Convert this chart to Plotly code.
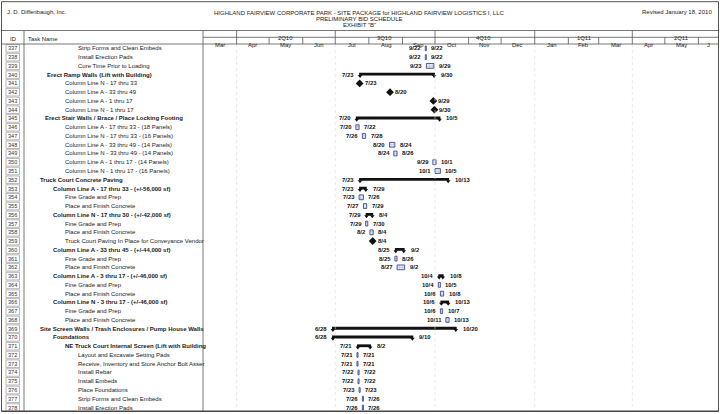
import plotly.graph_objects as go
from datetime import datetime, timedelta

W, H = 720, 414

# ---------------- data ----------------
task_ids = list(range(337, 379))
task_names = [
    "Strip Forms and Clean Embeds",
    "Install Erection Pads",
    "Cure Time Prior to Loading",
    "Erect Ramp Walls (Lift with Building)",
    "Column Line N - 17 thru 33",
    "Column Line A - 33 thru 49",
    "Column Line A - 1 thru 17",
    "Column Line N - 1 thru 17",
    "Erect Stair Walls / Brace / Place Locking Footing",
    "Column Line A - 17 thru 33 - (18 Panels)",
    "Column Line N - 17 thru 33 - (16 Panels)",
    "Column Line A - 33 thru 49 - (14 Panels)",
    "Column Line N - 33 thru 49 - (14 Panels)",
    "Column Line A - 1 thru 17 - (14 Panels)",
    "Column Line N - 1 thru 17 - (16 Panels)",
    "Truck Court Concrete Paving",
    "Column Line A - 17 thru 33 - (+/-56,000 sf)",
    "Fine Grade and Prep",
    "Place and Finish Concrete",
    "Column Line N - 17 thru 30 - (+/-42,000 sf)",
    "Fine Grade and Prep",
    "Place and Finish Concrete",
    "Truck Court Paving In Place for Conveyance Vendor",
    "Column Line A - 33 thru 45 - (+/-44,000 sf)",
    "Fine Grade and Prep",
    "Place and Finish Concrete",
    "Column Line A - 3 thru 17 - (+/-46,000 sf)",
    "Fine Grade and Prep",
    "Place and Finish Concrete",
    "Column Line N - 3 thru 17 - (+/-46,000 sf)",
    "Fine Grade and Prep",
    "Place and Finish Concrete",
    "Site Screen Walls / Trash Enclosures / Pump House Walls",
    "Foundations",
    "NE Truck Court Internal Screen (Lift with Building",
    "Layout and Excavate Setting Pads",
    "Receive, Inventory and Store Anchor Bolt Asser",
    "Install Rebar",
    "Install Embeds",
    "Place Foundations",
    "Strip Forms and Clean Embeds",
    "Install Erection Pads",
]
task_kinds = (["task"] * 3 + ["summary"] + ["milestone"] * 4 + ["summary"] + ["task"] * 6
              + ["summary"] * 2 + ["task"] * 2 + ["summary"] + ["task"] * 2 + ["milestone"]
              + ["summary"] + ["task"] * 2 + ["summary"] + ["task"] * 2 + ["summary"] + ["task"] * 2
              + ["summary"] * 3 + ["task"] * 7)
task_indent = [77, 77, 77, 46, 64, 64, 64, 64, 44, 64, 64, 64, 64, 64, 64,
               39, 52, 64, 64, 52, 64, 64, 64, 52, 64, 64, 52, 64, 64, 52, 64, 64,
               39, 52, 64, 77, 77, 77, 77, 77, 77, 77]
task_starts = ["9/22", "9/22", "9/23", "7/23", "7/23", "8/20", "9/29", "9/30", "7/20", "7/20",
               "7/26", "8/20", "8/24", "9/29", "10/1", "7/23", "7/23", "7/23", "7/27", "7/29",
               "7/29", "8/2", "8/4", "8/25", "8/25", "8/27", "10/4", "10/4", "10/6", "10/6",
               "10/6", "10/11", "6/28", "6/28", "7/21", "7/21", "7/21", "7/22", "7/22", "7/23",
               "7/26", "7/26"]
task_ends = ["9/22", "9/22", "9/29", "9/30", "7/23", "8/20", "9/29", "9/30", "10/5", "7/22",
             "7/28", "8/24", "8/26", "10/1", "10/5", "10/13", "7/29", "7/26", "7/29", "8/4",
             "7/30", "8/4", "8/4", "9/2", "8/26", "9/2", "10/8", "10/5", "10/8", "10/13",
             "10/7", "10/13", "10/20", "9/10", "8/2", "7/21", "7/21", "7/22", "7/22", "7/23",
             "7/26", "7/26"]

quarter_labels = ["2Q10", "3Q10", "4Q10", "1Q11", "2Q11"]
quarter_starts = ["2010-04-01", "2010-07-01", "2010-10-01", "2011-01-01", "2011-04-01"]
month_labels = ["Mar", "Apr", "May", "Jun", "Jul", "Aug", "Sep", "Oct", "Nov", "Dec",
                "Jan", "Feb", "Mar", "Apr", "May", "J"]
month_starts = ["2010-03-01", "2010-04-01", "2010-05-01", "2010-06-01", "2010-07-01",
                "2010-08-01", "2010-09-01", "2010-10-01", "2010-11-01", "2010-12-01",
                "2011-01-01", "2011-02-01", "2011-03-01", "2011-04-01", "2011-05-01",
                "2011-06-01"]
axis_start, axis_end = "2010-03-01", "2011-06-19 12:00"

# ---------------- helpers ----------------
FONT = "Liberation Sans, Arial, sans-serif"


def px(x):
    return x / W


def py(y):
    return 1 - y / H


def to_date(s, year=2010):
    m, d = s.split("/")
    return datetime(year, int(m), int(d))


def iso(dt):
    return dt.strftime("%Y-%m-%d %H:%M")


n = len(task_ids)
rows = list(range(n))
starts = [to_date(s) for s in task_starts]
ends = [to_date(e) + timedelta(days=1) for e in task_ends]

fig = go.Figure()

# normal tasks
t_idx = [i for i in rows if task_kinds[i] == "task"]
fig.add_trace(go.Bar(
    orientation="h",
    y=[i for i in t_idx],
    base=[iso(starts[i]) for i in t_idx],
    x=[(ends[i] - starts[i]).total_seconds() * 1000 for i in t_idx],
    width=0.55,
    marker=dict(color="#e4e7f4", line=dict(color="#2b3a8c", width=0.8),
                pattern=dict(shape="+", size=3, fgcolor="#2b3a8c", solidity=0.15)),
    hoverinfo="skip",
))

# summary tasks
s_idx = [i for i in rows if task_kinds[i] == "summary"]
fig.add_trace(go.Bar(
    orientation="h",
    y=[i - 0.05 for i in s_idx],
    base=[iso(starts[i]) for i in s_idx],
    x=[(ends[i] - starts[i]).total_seconds() * 1000 for i in s_idx],
    width=0.32,
    marker=dict(color="#111111", line=dict(width=0)),
    hoverinfo="skip",
))
fig.add_trace(go.Scatter(
    x=[iso(starts[i] + timedelta(hours=20)) for i in s_idx]
      + [iso(ends[i] - timedelta(hours=20)) for i in s_idx],
    y=[i + 0.16 for i in s_idx] * 2,
    mode="markers",
    marker=dict(symbol="triangle-down", size=4, color="#111111", line=dict(width=0)),
    hoverinfo="skip",
))

# milestones
m_idx = [i for i in rows if task_kinds[i] == "milestone"]
fig.add_trace(go.Scatter(
    x=[iso(starts[i] + timedelta(hours=12)) for i in m_idx],
    y=m_idx,
    mode="markers",
    marker=dict(symbol="diamond", size=6, color="#111111", line=dict(width=0)),
    hoverinfo="skip",
))

ann = []
shapes = []
date_font = dict(family=FONT, size=5.9, color="#111111")

for i in rows:
    k = task_kinds[i]
    # date labels
    if k == "milestone":
        ann.append(dict(x=iso(starts[i] + timedelta(hours=12)), y=i, xref="x", yref="y",
                        text="<b>%s</b>" % task_starts[i], showarrow=False, borderpad=0,
                        xanchor="left", xshift=4, font=date_font))
    else:
        gap = 4 if k == "summary" else 3
        ann.append(dict(x=iso(starts[i]), y=i, xref="x", yref="y",
                        text="<b>%s</b>" % task_starts[i], showarrow=False, borderpad=0,
                        xanchor="right", xshift=-gap, font=date_font))
        ann.append(dict(x=iso(ends[i]), y=i, xref="x", yref="y",
                        text="<b>%s</b>" % task_ends[i], showarrow=False, borderpad=0,
                        xanchor="left", xshift=gap + 1, font=date_font))
    # task names
    name = task_names[i]
    if k == "summary":
        name = "<b>%s</b>" % name
    ann.append(dict(x=px(task_indent[i]), y=i, xref="paper", yref="y", text=name,
                    showarrow=False, xanchor="left", borderpad=0,
                    font=dict(family=FONT, size=6, color="#1a1a1a")))
    # ids
    ann.append(dict(x=px(12.7), y=i, xref="paper", yref="y", text=str(task_ids[i]),
                    showarrow=False, xanchor="center", borderpad=0,
                    font=dict(family=FONT, size=5.6, color="#333333")))
    shapes.append(dict(type="rect", xref="paper", yref="y", x0=px(6), x1=px(19.5),
                       y0=i - 0.43, y1=i + 0.43, line=dict(color="#8a8a8a", width=0.6)))

# ---------------- frame / header ----------------
LC = "#555555"


def hline(y, x0, x1, w=0.8, c=LC):
    shapes.append(dict(type="line", xref="paper", yref="paper", x0=px(x0), x1=px(x1),
                       y0=py(y), y1=py(y), line=dict(color=c, width=w)))


def vline(x, y0, y1, w=0.8, c=LC):
    shapes.append(dict(type="line", xref="paper", yref="paper", x0=px(x), x1=px(x),
                       y0=py(y0), y1=py(y1), line=dict(color=c, width=w)))


# faint gridlines in chart area
for d in quarter_starts:
    shapes.append(dict(type="line", xref="x", yref="paper", x0=d, x1=d,
                       y0=py(44), y1=py(411.5), line=dict(color="#d6d6d6", width=0.6, dash="dot")))

shapes.append(dict(type="rect", xref="paper", yref="paper", x0=px(1.5), x1=px(718.5),
                   y0=py(1.7), y1=py(411.5), line=dict(color=LC, width=1)))
hline(411.3, 1.5, 718.5, w=1.6, c="#444444")
hline(30.5, 1.5, 718.5)
hline(44, 1.5, 718.5)
hline(37.3, 203, 718.5)
vline(24, 30.5, 411.5)
vline(203, 30.5, 411.5)

for d in quarter_starts:
    shapes.append(dict(type="line", xref="x", yref="paper", x0=d, x1=d,
                       y0=py(30.5), y1=py(37.3), line=dict(color=LC, width=0.8)))
for d in month_starts[1:]:
    shapes.append(dict(type="line", xref="x", yref="paper", x0=d, x1=d,
                       y0=py(37.3), y1=py(44), line=dict(color=LC, width=0.8)))

hdr_font = dict(family=FONT, size=5.9, color="#1a1a1a")
for lab, d in zip(quarter_labels, quarter_starts):
    mid = datetime.strptime(d, "%Y-%m-%d") + timedelta(days=45)
    ann.append(dict(x=iso(mid), y=py(34), xref="x", yref="paper", text=lab, borderpad=0,
                    showarrow=False, xanchor="center", font=hdr_font))
for j, (lab, d) in enumerate(zip(month_labels, month_starts)):
    ms = datetime.strptime(d, "%Y-%m-%d")
    if j + 1 < len(month_starts):
        me = datetime.strptime(month_starts[j + 1], "%Y-%m-%d")
    else:
        me = datetime.strptime(axis_end, "%Y-%m-%d %H:%M")
    mid = ms + (me - ms) / 2
    ann.append(dict(x=iso(mid), y=py(40.6), xref="x", yref="paper", text=lab, borderpad=0,
                    showarrow=False, xanchor="center", font=hdr_font))

ann.append(dict(x=px(12.5), y=py(34.5), xref="paper", yref="paper", text="ID", borderpad=0,
                showarrow=False, xanchor="center", font=hdr_font))
ann.append(dict(x=px(27), y=py(34.5), xref="paper", yref="paper", text="Task Name", borderpad=0,
                showarrow=False, xanchor="left", font=hdr_font))

title_font = dict(family=FONT, size=6, color="#1a1a1a")
ann.append(dict(x=px(6), y=py(8.5), xref="paper", yref="paper", text="J. D. Diffenbaugh, Inc.",
                showarrow=False, xanchor="left", borderpad=0, font=title_font))
ann.append(dict(x=px(713), y=py(8.5), xref="paper", yref="paper", text="Revised January 18, 2010",
                showarrow=False, xanchor="right", borderpad=0, font=title_font))
for txt, yy in [("HIGHLAND FAIRVIEW CORPORATE PARK - SITE PACKAGE for HIGHLAND FAIRVIEW LOGISTICS I, LLC", 8.5),
                ("PRELIMINARY BID SCHEDULE", 14.5),
                ("EXHIBIT \"B\"", 20.5)]:
    ann.append(dict(x=px(359), y=py(yy), xref="paper", yref="paper", text=txt, borderpad=0,
                    showarrow=False, xanchor="center", font=title_font))

fig.update_layout(
    width=W, height=H,
    margin=dict(l=0, r=0, t=0, b=0),
    paper_bgcolor="white", plot_bgcolor="white",
    showlegend=False,
    barmode="overlay",
    hovermode=False,
    xaxis=dict(type="date", range=[axis_start, axis_end], domain=[px(203), px(718.5)],
               visible=False, showgrid=False, zeroline=False),
    yaxis=dict(range=[n - 0.5, -0.5], domain=[py(411.9), py(44)], visible=False,
               showgrid=False, zeroline=False),
    annotations=ann,
    shapes=shapes,
)

fig.write_html("out.html",
               config={"displayModeBar": False, "staticPlot": True},
               post_script="document.body.style.margin='0';document.body.style.padding='0';"
                           "document.body.style.overflow='hidden';")
